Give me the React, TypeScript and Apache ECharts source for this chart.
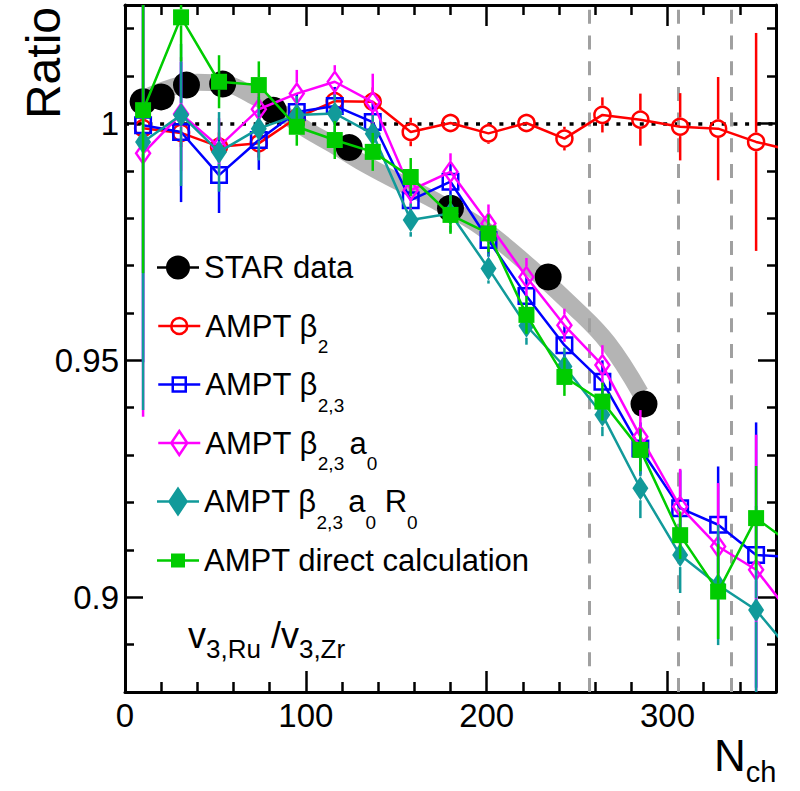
import React, { useEffect, useRef } from 'react';
import * as echarts from 'echarts';

const FONT = '"Liberation Sans", Arial, Helvetica, sans-serif';

// ---------- data ----------
const X_MIN = 0;
const X_MAX = 360;
const Y_MIN = 0.88;
const Y_MAX = 1.025;

const X_MAJOR = [0, 100, 200, 300];
const X_MINOR = [20, 40, 60, 80, 120, 140, 160, 180, 220, 240, 260, 280, 320, 340];
const Y_MAJOR = [0.9, 0.95, 1.0];
const Y_MINOR = [0.89, 0.91, 0.92, 0.93, 0.94, 0.96, 0.97, 0.98, 0.99, 1.01, 1.02];

const REF_LINE_Y = 1;
const DASHED_X = [257, 306, 335];

const X_STAR = [10, 20, 34, 54, 82, 124, 180, 234, 287];
const Y_STAR = [1.0046, 1.0056, 1.0081, 1.0083, 1.0028, 0.9949, 0.9821, 0.9676, 0.9408];

const X_BAND = [10, 25, 40, 55, 70, 85, 100, 115, 130, 150, 170, 197, 224, 248, 267, 285];
const Y_BAND = [1.0052, 1.0075, 1.0087, 1.0084, 1.006, 1.0027, 0.9988, 0.9955, 0.992, 0.9879, 0.984, 0.9781, 0.9697, 0.9613, 0.9537, 0.9431];

const X_AMPT = [10, 31, 52, 74, 95, 116, 137, 158, 180, 201, 222, 243, 264, 285, 307, 328, 349, 370];

const Y_B2 = [0.999, 0.998, 0.9951, 0.9958, 1.0012, 1.0047, 1.0046, 0.9982, 1.0001, 0.9979, 1.0001, 0.9968, 1.0018, 1.0008, 0.9993, 0.9989, 0.9961, 0.9942];
const E_B2 = [0.003, 0.003, 0.003, 0.003, 0.003, 0.003, 0.003, 0.003, 0.002, 0.0022, 0.002, 0.0025, 0.0037, 0.0055, 0.0071, 0.0109, 0.023, 0];

const Y_B23 = [0.9996, 0.9982, 0.9891, 0.9965, 1.0024, 1.0037, 1.0003, 0.9838, 0.9877, 0.9754, 0.9636, 0.9532, 0.9455, 0.9314, 0.9188, 0.9153, 0.9089, 0.9085];
const E_B23 = [0.05, 0.0148, 0.008, 0.0063, 0.004, 0.004, 0.004, 0.004, 0.004, 0.0035, 0.004, 0.004, 0.0045, 0.0055, 0.008, 0.0123, 0.028, 0];

const Y_B23A = [0.9937, 1.002, 0.9951, 1.003, 1.0063, 1.0088, 1.0045, 0.9859, 0.9898, 0.9789, 0.9676, 0.9574, 0.949, 0.9339, 0.9191, 0.9107, 0.9058, 0.8955];
const E_B23A = [0.0556, 0.012, 0.006, 0.005, 0.005, 0.0035, 0.006, 0.004, 0.0039, 0.004, 0.004, 0.0035, 0.0042, 0.0056, 0.008, 0.0134, 0.0285, 0];

const Y_B23AR = [0.9961, 1.0018, 0.994, 0.9989, 1.0018, 1.0021, 0.9978, 0.9796, 0.981, 0.9694, 0.9573, 0.9487, 0.9385, 0.923, 0.9089, 0.9026, 0.8973, 0.8877];
const E_B23AR = [0.0566, 0.015, 0.0084, 0.0067, 0.004, 0.004, 0.004, 0.0035, 0.004, 0.0032, 0.004, 0.004, 0.0045, 0.0063, 0.008, 0.0127, 0.022, 0];

const Y_DIRECT = [1.0028, 1.0224, 1.0088, 1.0081, 0.9993, 0.9965, 0.994, 0.9887, 0.9807, 0.9768, 0.9596, 0.9465, 0.9413, 0.9311, 0.9131, 0.9012, 0.9167, 0.9108];
const E_DIRECT = [0.0344, 0.0093, 0.0056, 0.005, 0.004, 0.004, 0.004, 0.004, 0.004, 0.004, 0.004, 0.004, 0.004, 0.0045, 0.005, 0.01, 0.011, 0];

const NAMES = ['STAR data', 'AMPT β2', 'AMPT β2,3', 'AMPT β2,3 a0', 'AMPT β2,3 a0 R0', 'AMPT direct calculation'];
const LABELS = ['STAR data', 'AMPT β{s|2}', 'AMPT β{s|2,3}', 'AMPT β{s|2,3 }a{s|0}', 'AMPT β{s|2,3 }a{s|0} R{s|0}', 'AMPT direct calculation'];

// ---------- styles / layout ----------
const LEGEND_ROW_CENTER = [267.5, 326, 384.5, 443, 501.5, 560.5];
const LEGEND_LEFT = 157;

type Spec = {
  name: string; ys: number[]; errs: number[]; color: string; symbol: string;
  size: number | number[]; open: boolean; half: number; z: number; icon: string; iconH: number;
};

const AMPT: Spec[] = [
  { name: NAMES[1], ys: Y_B2, errs: E_B2, color: '#ff0000', symbol: 'circle', size: 16, open: true, half: 9.3, z: 5,
    icon: 'path://M0 8L42 8M13 8A8 8 0 1 1 29 8A8 8 0 1 1 13 8Z', iconH: 16 },
  { name: NAMES[2], ys: Y_B23, errs: E_B23, color: '#0000ff', symbol: 'rect', size: 15.5, open: true, half: 9, z: 7,
    icon: 'path://M0 7L42 7M14.5 0L27.5 0L27.5 14L14.5 14Z', iconH: 14 },
  { name: NAMES[3], ys: Y_B23A, errs: E_B23A, color: '#ff00ff', symbol: 'diamond', size: [14, 20], open: true, half: 11, z: 9,
    icon: 'path://M0 12L42 12M21 0L29 12L21 24L13 12Z', iconH: 24 },
  { name: NAMES[4], ys: Y_B23AR, errs: E_B23AR, color: '#119a9a', symbol: 'diamond', size: [16, 24], open: false, half: 12, z: 11,
    icon: 'path://M0 13.75L42 13.75L42 16.25L0 16.25ZM21 0L31 15L21 30L11 15Z', iconH: 30 },
  { name: NAMES[5], ys: Y_DIRECT, errs: E_DIRECT, color: '#00cc00', symbol: 'rect', size: 16, open: false, half: 8, z: 13,
    icon: 'path://M0 5.75L42 5.75L42 8.25L0 8.25ZM14 0L28 0L28 14L14 14Z', iconH: 14 },
];

const STAR_ICON = 'path://M0 10.75L42 10.75L42 13.25L0 13.25ZM9 12A12 12 0 1 1 33 12A12 12 0 1 1 9 12Z';

function makeErrRenderer(half: number, color: string) {
  return (_params: any, api: any) => {
    const x = api.value(0);
    const y = api.value(1);
    const e = api.value(2);
    const c = api.coord([x, y]);
    const t = api.coord([x, y + e]);
    const b = api.coord([x, y - e]);
    const children: any[] = [];
    if (c[1] - half > t[1]) {
      children.push({ type: 'line', shape: { x1: c[0], y1: c[1] - half, x2: c[0], y2: t[1] }, style: { stroke: color, lineWidth: 2.5 } });
    }
    if (b[1] > c[1] + half) {
      children.push({ type: 'line', shape: { x1: c[0], y1: c[1] + half, x2: c[0], y2: b[1] }, style: { stroke: color, lineWidth: 2.5 } });
    }
    return { type: 'group', children };
  };
}

const tickLine = { color: '#000', width: 2.5 };
const labelStyle = { fontSize: 33, fontFamily: FONT, color: '#000' };

function xAxisDef(position: 'top' | 'bottom', major: boolean, withLine: boolean, withLabel: boolean) {
  return {
    type: 'value', position, min: X_MIN, max: X_MAX,
    axisLine: { show: withLine, onZero: false, lineStyle: { color: '#000', width: 3 } },
    axisTick: { show: true, inside: true, length: major ? 21 : 10, customValues: major ? X_MAJOR : X_MINOR, lineStyle: tickLine },
    axisLabel: withLabel ? { show: true, customValues: X_MAJOR, margin: 7, ...labelStyle } : { show: false },
    splitLine: { show: false },
  };
}

function yAxisDef(position: 'left' | 'right', major: boolean, withLine: boolean, withLabel: boolean) {
  return {
    type: 'value', position, min: Y_MIN, max: Y_MAX,
    axisLine: { show: withLine, onZero: false, lineStyle: { color: '#000', width: 3 } },
    axisTick: { show: true, inside: true, length: major ? 18 : 9, customValues: major ? Y_MAJOR : Y_MINOR, lineStyle: tickLine },
    axisLabel: withLabel ? { show: true, customValues: Y_MAJOR, margin: 6, ...labelStyle } : { show: false },
    splitLine: { show: false },
  };
}

function buildOption(): any {
  const legendText = {
    fontSize: 31, fontFamily: FONT, color: '#000',
    rich: { s: { fontSize: 19, fontFamily: FONT, color: '#000', padding: [41.5, 0, 0, 0] } },
  };
  const legendFor = (i: number, icon: string, iconH: number, itemStyle: any) => ({
    show: true, left: LEGEND_LEFT,
    top: LEGEND_ROW_CENTER[i] - 15.5,
    orient: 'vertical', padding: 0, itemWidth: 42, itemHeight: iconH, selectedMode: false,
    data: [{ name: NAMES[i], icon, itemStyle }],
    formatter: () => LABELS[i],
    textStyle: legendText,
  });

  const legends: any[] = [legendFor(0, STAR_ICON, 24, { color: '#000', borderWidth: 0, borderColor: '#000', opacity: 1 })];
  AMPT.forEach((s, k) => {
    legends.push(legendFor(k + 1, s.icon, s.iconH,
      s.open ? { color: 'rgba(0,0,0,0)', borderColor: s.color, borderWidth: 2.5, opacity: 1 } : { color: s.color, borderColor: s.color, borderWidth: 0, opacity: 1 }));
  });

  const series: any[] = [
    {
      type: 'line', name: 'STAR systematic', data: X_BAND.map((x, i) => [x, Y_BAND[i]]),
      smooth: 0.4, symbol: 'none', lineStyle: { color: '#b4b4b4', width: 17, cap: 'butt' }, z: 1, silent: true,
      markLine: {
        silent: true, z: 2, symbol: ['none', 'none'], label: { show: false }, animation: false,
        emphasis: { disabled: true },
        data: [
          { yAxis: REF_LINE_Y, lineStyle: { type: [4, 7.7], color: '#000', width: 3.5 } },
          ...DASHED_X.map((x) => ({ xAxis: x, lineStyle: { type: [14, 11.7], color: '#a0a0a0', width: 3 } })),
        ],
      },
    },
    {
      type: 'scatter', name: NAMES[0], data: X_STAR.map((x, i) => [x, Y_STAR[i]]),
      symbol: 'circle', symbolSize: 27, itemStyle: { color: '#000', opacity: 1 }, z: 3, silent: true,
    },
  ];

  AMPT.forEach((s) => {
    series.push({
      type: 'custom', name: s.name + ' errors', data: X_AMPT.map((x, i) => [x, s.ys[i], s.errs[i]]),
      encode: { x: 0, y: 1 }, renderItem: makeErrRenderer(s.half, s.color), clip: true, z: s.z - 1, silent: true,
    });
    series.push({
      type: 'line', name: s.name, data: X_AMPT.map((x, i) => [x, s.ys[i]]),
      symbol: s.symbol, symbolSize: s.size, showSymbol: true, showAllSymbol: true, clip: true,
      itemStyle: s.open ? { color: 'rgba(0,0,0,0)', borderColor: s.color, borderWidth: 2.5 } : { color: s.color, borderWidth: 0 },
      lineStyle: { color: s.color, width: 2.5 }, z: s.z, silent: true, emphasis: { disabled: true },
    });
  });

  return {
    animation: false,
    backgroundColor: '#ffffff',
    textStyle: { fontFamily: FONT },
    grid: { left: 125, top: 5, right: 24, bottom: 99, containLabel: false },
    xAxis: [
      xAxisDef('bottom', false, true, true),
      xAxisDef('bottom', true, false, false),
      xAxisDef('top', false, true, false),
      xAxisDef('top', true, false, false),
    ],
    yAxis: [
      yAxisDef('left', false, true, true),
      yAxisDef('left', true, false, false),
      yAxisDef('right', false, true, false),
      yAxisDef('right', true, false, false),
    ],
    legend: legends,
    series,
    graphic: [
      {
        type: 'text', x: 43.4, y: 7, rotation: Math.PI / 2, silent: true,
        style: { text: 'Ratio', fontSize: 48, fontFamily: FONT, fill: '#000', align: 'right', verticalAlign: 'middle' },
      },
      {
        type: 'text', x: 188, y: 635.5, silent: true,
        style: {
          text: 'v{s|3,Ru} /v{s|3,Zr}', fontSize: 36, fontFamily: FONT, fill: '#000', align: 'left', verticalAlign: 'middle',
          rich: { s: { fontSize: 26, fontFamily: FONT, fill: '#000', padding: [27, 0, 0, 0] } },
        },
      },
      {
        type: 'text', x: 714, y: 755, silent: true,
        style: {
          text: 'N{s|ch}', fontSize: 44, fontFamily: FONT, fill: '#000', align: 'left', verticalAlign: 'middle',
          rich: { s: { fontSize: 29, fontFamily: FONT, fill: '#000', padding: [33, 0, 0, 0] } },
        },
      },
    ],
  };
}

export default function App() {
  const ref = useRef<HTMLDivElement>(null);
  useEffect(() => {
    document.body.style.margin = '0';
    const chart = echarts.init(ref.current as HTMLDivElement, undefined, { renderer: 'svg' });
    chart.setOption(buildOption());
    return () => chart.dispose();
  }, []);
  return <div ref={ref} style={{ width: 800, height: 791 }} />;
}
